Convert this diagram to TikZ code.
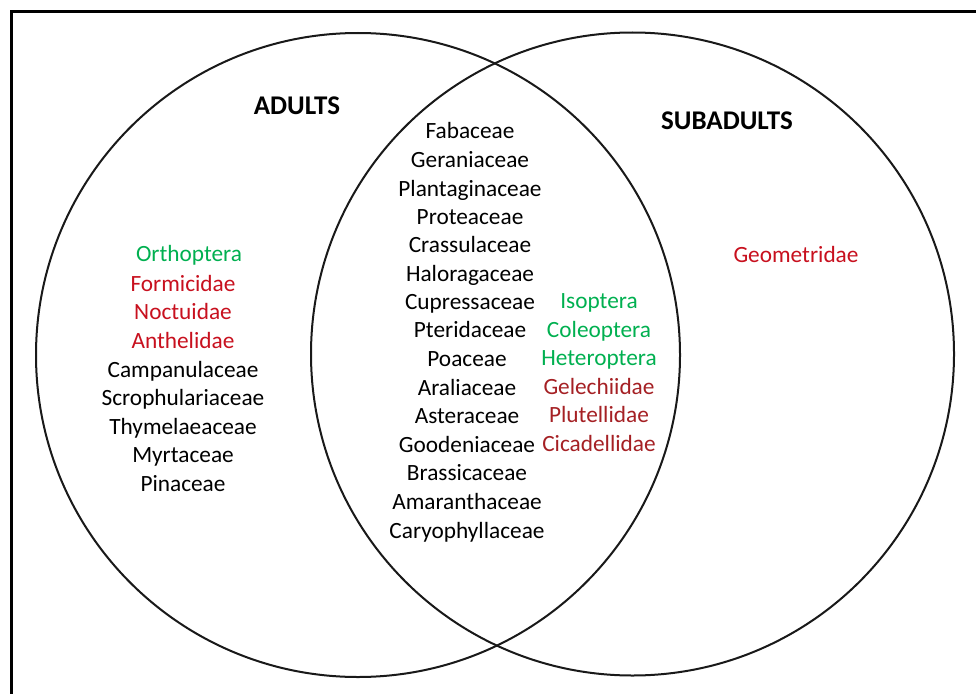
\documentclass[tikz,border=0pt]{standalone}
\usepackage{fontspec}
\setmainfont{Carlito}
\definecolor{insectgreen}{RGB}{0,176,80}
\definecolor{mothred}{RGB}{200,16,30}
\definecolor{bugred}{RGB}{165,32,36}
\begin{document}
\begin{tikzpicture}[x=1pt,y=-1pt,
  lbl/.style={anchor=base,inner sep=0pt,font=\fontsize{23.3}{28}\selectfont},
  ttl/.style={lbl,font=\fontsize{27}{32}\selectfont\bfseries},
  ring/.style={draw=black!90,line width=2pt},
  ins/.style={lbl,text=insectgreen},
  fam/.style={lbl,text=mothred},
  famb/.style={lbl,text=bugred}]
\useasboundingbox (0,0) rectangle (976,693);
\clip (0,0) rectangle (976,693);
\fill[white] (0,0) rectangle (976,693);
% outer frame (runs off the right and bottom edges)
\draw[line width=3pt] (11,700) -- (11,12) -- (990,12);
% the two sets
\draw[ring] (358,355) circle[radius=322];
\draw[ring] (632.5,354) circle[radius=321.5];
% titles
\node[ttl] (adults) at (297,114) {ADULTS};
\node[ttl] (subadults) at (727,129) {SUBADULTS};
% adults only
\node[ins] (a1) at (189,261) {Orthoptera};
\node[fam] (a2) at (183,291) {Formicidae};
\node[fam] (a3) at (183,319) {Noctuidae};
\node[fam] (a4) at (183,348) {Anthelidae};
\node[lbl] (a5) at (183,377) {Campanulaceae};
\node[lbl] (a6) at (183,405) {Scrophulariaceae};
\node[lbl] (a7) at (183,434) {Thymelaeaceae};
\node[lbl] (a8) at (183,462) {Myrtaceae};
\node[lbl] (a9) at (183,491) {Pinaceae};
% shared plants
\node[lbl] (b1) at (470,138) {Fabaceae};
\node[lbl] (b2) at (470,167) {Geraniaceae};
\node[lbl] (b3) at (470,196) {Plantaginaceae};
\node[lbl] (b4) at (470,224) {Proteaceae};
\node[lbl] (b5) at (470,252) {Crassulaceae};
\node[lbl] (b6) at (470,281) {Haloragaceae};
\node[lbl] (b7) at (470,309) {Cupressaceae};
\node[lbl] (b8) at (470,337) {Pteridaceae};
\node[lbl] (b9) at (467,366) {Poaceae};
\node[lbl] (b10) at (467,395) {Araliaceae};
\node[lbl] (b11) at (467,423) {Asteraceae};
\node[lbl] (b12) at (467,452) {Goodeniaceae};
\node[lbl] (b13) at (467,480) {Brassicaceae};
\node[lbl] (b14) at (467,509) {Amaranthaceae};
\node[lbl] (b15) at (467,538) {Caryophyllaceae};
% shared insects
\node[ins] (c1) at (599,308) {Isoptera};
\node[ins] (c2) at (599,337) {Coleoptera};
\node[ins] (c3) at (599,365) {Heteroptera};
\node[famb] (c4) at (599,394) {Gelechiidae};
\node[famb] (c5) at (599,422) {Plutellidae};
\node[famb] (c6) at (599,451) {Cicadellidae};
% subadults only
\node[fam] (d1) at (796,262) {Geometridae};
\end{tikzpicture}
\end{document}
